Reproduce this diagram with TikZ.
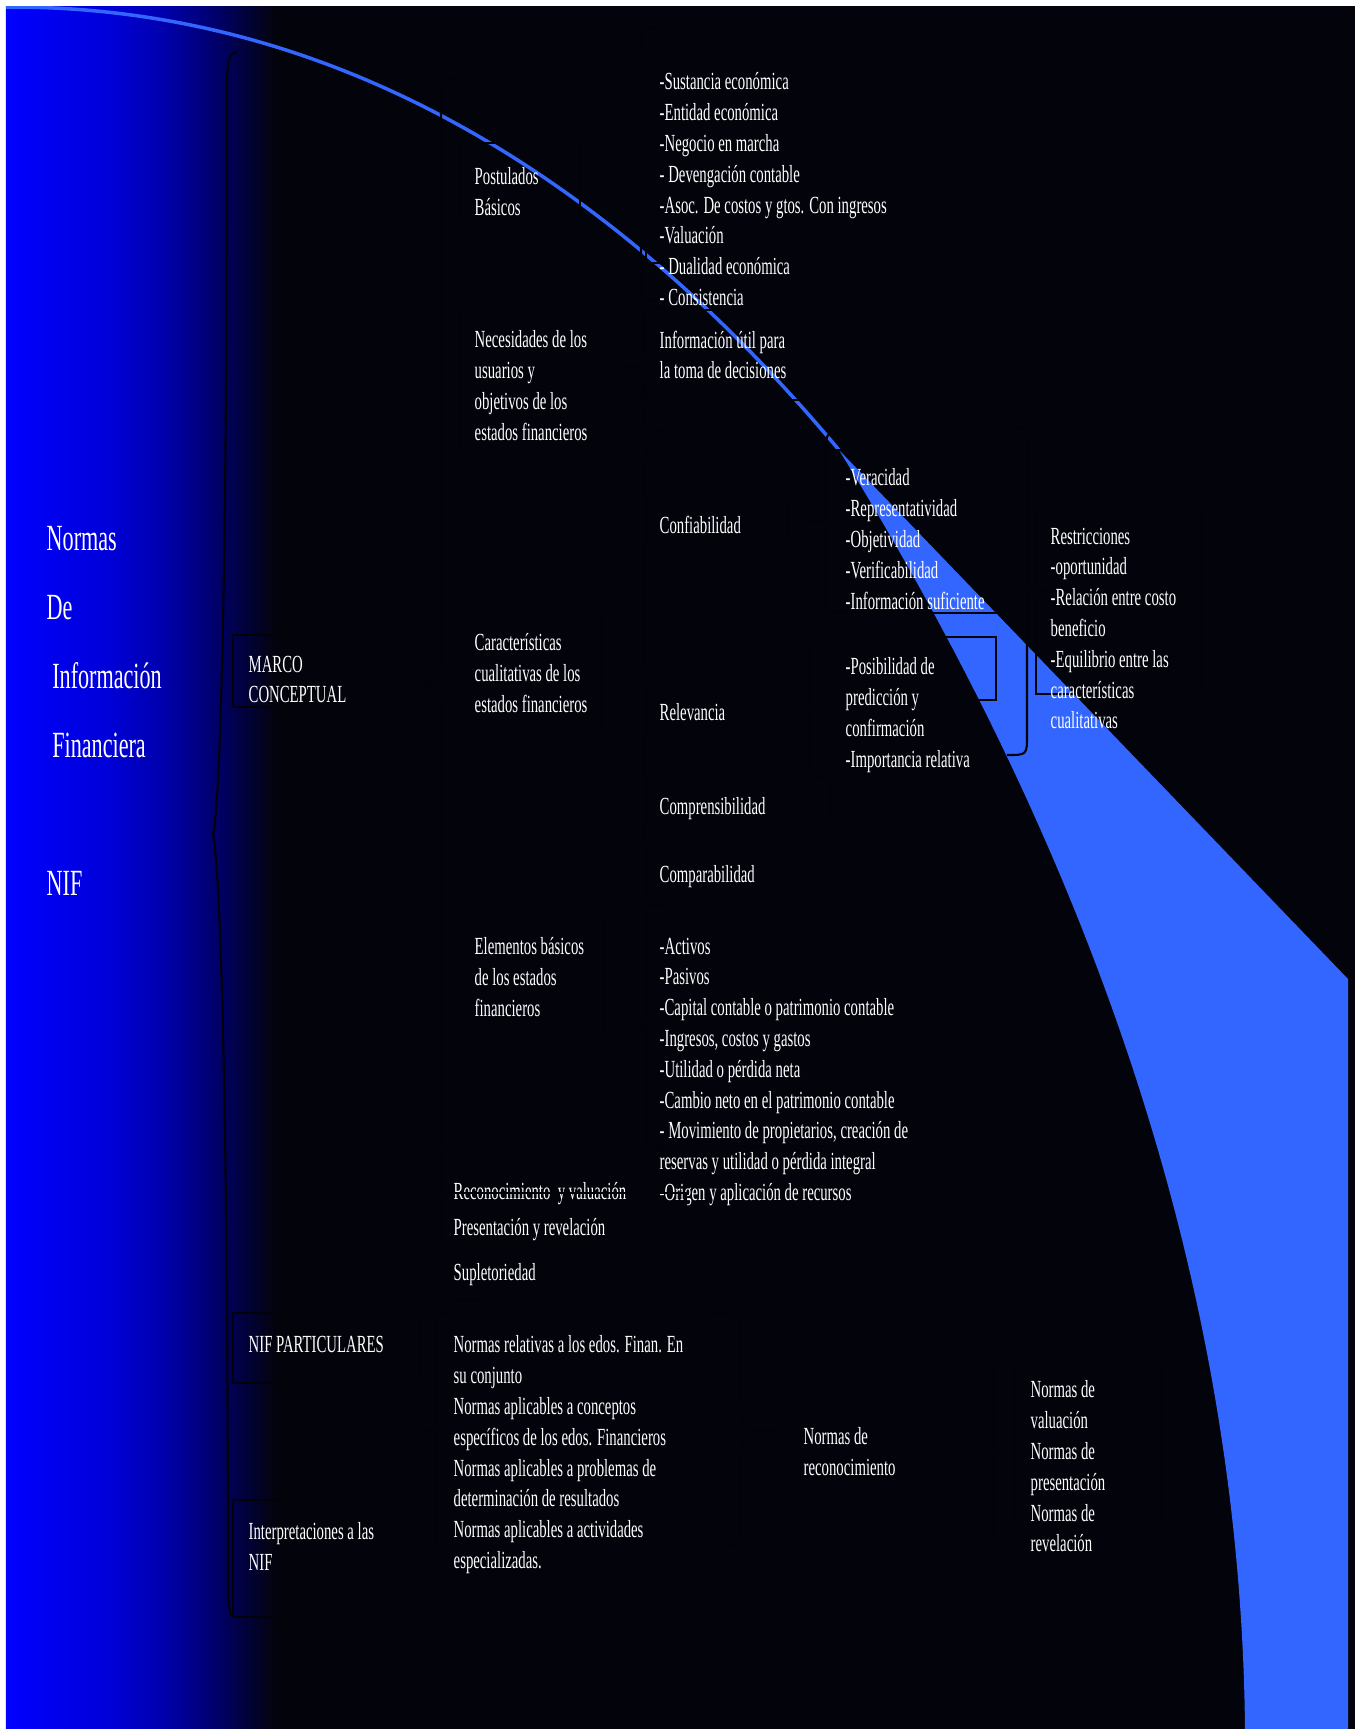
\documentclass[tikz,border=0pt]{standalone}
\usepackage{fontspec}
\setmainfont{Liberation Serif}[FakeStretch=0.6]
\definecolor{fondo}{RGB}{3,3,12}
\definecolor{celeste}{RGB}{51,102,255}
\definecolor{linea}{RGB}{2,2,9}
\tikzset{
  texto/.style={anchor=north west, inner sep=0pt, align=left, text=white,
    font=\fontsize{7}{8.77}\selectfont},
  titulo/.style={texto, font=\fontsize{10.5}{19.6}\selectfont},
  caja/.style={draw=linea, line width=0.6pt},
  llave/.style={draw=linea, line width=0.6pt},
}
% llave: x de la linea, y arriba, y abajo, x punta, y punta
\newcommand{\dibujallave}[5]{%
  \draw[llave] ({2*#1-#4},#2) .. controls (#1,#2) .. (#1,{#2+abs(#1-#4)})
    -- (#1,{#5-abs(#1-#4)}) .. controls (#1,#5) .. (#4,#5)
    .. controls (#1,#5) .. (#1,{#5+abs(#1-#4)})
    -- (#1,{#3-abs(#1-#4)}) .. controls (#1,#3) .. ({2*#1-#4},#3);}

\begin{document}
\begin{tikzpicture}[x=0.1mm, y=-0.1mm]
  \useasboundingbox (0,0) rectangle (1355,1729);
  \fill[white] (0,0) rectangle (1355,1729);
  \fill[fondo] (6,6) rectangle (1355,1729);
  % degradado azul a la izquierda
  \shade[left color={rgb,255:red,0;green,0;blue,255}, right color={rgb,255:red,0;green,0;blue,215}] (6,6) rectangle (111,1729);
  \shade[left color={rgb,255:red,0;green,0;blue,215}, right color={rgb,255:red,0;green,0;blue,170}] (110,6) rectangle (166,1729);
  \shade[left color={rgb,255:red,0;green,0;blue,170}, right color={rgb,255:red,0;green,0;blue,100}] (165,6) rectangle (221,1729);
  \shade[left color={rgb,255:red,0;green,0;blue,100}, right color=fondo] (220,6) rectangle (275,1729);

  % curva y cuña celeste
  \begin{scope}
    \clip (6,6) rectangle (1355,1729);
    \fill[celeste] (839,450) -- (1348,979) -- (1348,1729) -- (1245,1729)
      .. controls (1240,1200) and (1030,760) .. (839,450) -- cycle;
    \draw[celeste, line width=1pt] (6,7) .. controls (380,5) and (655,230) .. (839,450);
  \end{scope}

  % llave grande
  \draw[llave] (237,52) .. controls (229,53) and (227,60) .. (227,90)
    .. controls (227,400) and (224,780) .. (213,835)
    .. controls (224,890) and (228,1270) .. (228,1590)
    .. controls (228,1610) and (230,1617) .. (236,1617);

  % cajas
  \draw[caja] (233,635) rectangle (398,707);
  \draw[caja] (233,1313) rectangle (420,1383);
  \draw[caja] (233,1500) rectangle (397,1617);
  \draw[caja] (460,143) rectangle (580,217);
  \draw[caja] (460,310) rectangle (603,450);
  \draw[caja] (462,613) rectangle (601,730);
  \draw[caja] (459,917) rectangle (604,1033);
  \draw[caja] (441,1148) rectangle (650,1193);
  \draw[caja] (446,1247) rectangle (584,1290);
  \draw[caja] (646,53) rectangle (976,263);
  \draw[caja] (646,310) rectangle (810,400);
  \draw[caja] (648,497) rectangle (788,542);
  \draw[caja] (648,683) rectangle (768,730);
  \draw[caja] (648,778) rectangle (831,822);
  \draw[caja] (648,847) rectangle (808,893);
  \draw[caja] (647,917) rectangle (950,1147);
  \draw[caja] (824,450) rectangle (1018,613);
  \draw[caja] (826,637) rectangle (996,700);
  \draw[caja] (1036,508) rectangle (1201,694);
  \draw[caja] (792,1407) rectangle (954,1477);
  \draw[caja] (1015,1362) rectangle (1161,1523);

  % llaves
  \dibujallave{441}{77}{1300}{400}{683}
  \dibujallave{641}{28}{300}{622}{165}
  \dibujallave{643}{308}{430}{622}{367}
  \dibujallave{645}{445}{900}{623}{672}
  \dibujallave{645}{905}{1150}{624}{1027}
  \dibujallave{826}{432}{612}{806}{522}
  \dibujallave{810}{637}{777}{790}{707}
  \dibujallave{1027}{427}{755}{1047}{591}
  \dibujallave{436}{1313}{1547}{424}{1430}
  \dibujallave{741}{1313}{1547}{775}{1430}
  \dibujallave{994}{1362}{1547}{978}{1453}

  % textos
  \node[titulo] (nif) at (46,526) {Normas\\De\\\hspace*{1.6pt}Información\\\hspace*{1.6pt}Financiera\\[19.6pt]NIF};
  \node[texto] (marco) at (248,655) {MARCO\\CONCEPTUAL};
  \node[texto] (nifpart) at (248,1335) {NIF PARTICULARES};
  \node[texto] (interp) at (248,1522) {Interpretaciones a las\\NIF};
  \node[texto] (post) at (474,167) {Postulados\\Básicos};
  \node[texto] (neces) at (474,330) {Necesidades de los\\usuarios y\\objetivos de los\\estados financieros};
  \node[texto] (caract) at (474,633) {Características\\cualitativas de los\\estados financieros};
  \node[texto] (elem) at (474,937) {Elementos básicos\\de los estados\\financieros};
  \node[texto] (recon) at (453,1182) {Reconocimiento\ \ y valuación};
  \node[texto] (present) at (453,1218) {Presentación y revelación};
  \node[texto] (supl) at (453,1263) {Supletoriedad};
  \node[texto] (normas) at (453,1335) {Normas relativas a los edos. Finan. En\\su conjunto\\Normas aplicables a conceptos\\específicos de los edos. Financieros\\Normas aplicables a problemas de\\determinación de resultados\\Normas aplicables a actividades\\especializadas.};
  \node[texto] (sust) at (659,72) {-Sustancia económica\\-Entidad económica\\-Negocio en marcha\\- Devengación contable\\-Asoc. De costos y gtos. Con ingresos\\-Valuación\\- Dualidad económica\\- Consistencia};
  \node[texto] (info) at (659,330) {Información útil para\\la toma de decisiones};
  \node[texto] (confi) at (659,515) {Confiabilidad};
  \node[texto] (relev) at (659,703) {Relevancia};
  \node[texto] (compr) at (659,797) {Comprensibilidad};
  \node[texto] (compa) at (659,865) {Comparabilidad};
  \node[texto] (activos) at (659,937) {-Activos\\-Pasivos\\-Capital contable o patrimonio contable\\-Ingresos, costos y gastos\\-Utilidad o pérdida neta\\-Cambio neto en el patrimonio contable\\- Movimiento de propietarios, creación de\\reservas y utilidad o pérdida integral\\-Origen y aplicación de recursos};
  \node[texto] (recnorm) at (803,1427) {Normas de\\reconocimiento};
  \node[texto] (verac) at (845,468) {-Veracidad\\-Representatividad\\-Objetividad\\-Verificabilidad\\-Información suficiente};
  \node[texto] (posib) at (845,657) {-Posibilidad de\\predicción y\\confirmación\\-Importancia relativa};
  \node[texto] (restr) at (1050,527) {Restricciones\\-oportunidad\\-Relación entre costo\\beneficio\\-Equilibrio entre las\\características\\cualitativas};
  \node[texto] (valua) at (1030,1380) {Normas de\\valuación\\Normas de\\presentación\\Normas de\\revelación};

  % caja que pasa sobre el texto de arriba
  \draw[caja] (441,1193) rectangle (686,1242);
\end{tikzpicture}
\end{document}
